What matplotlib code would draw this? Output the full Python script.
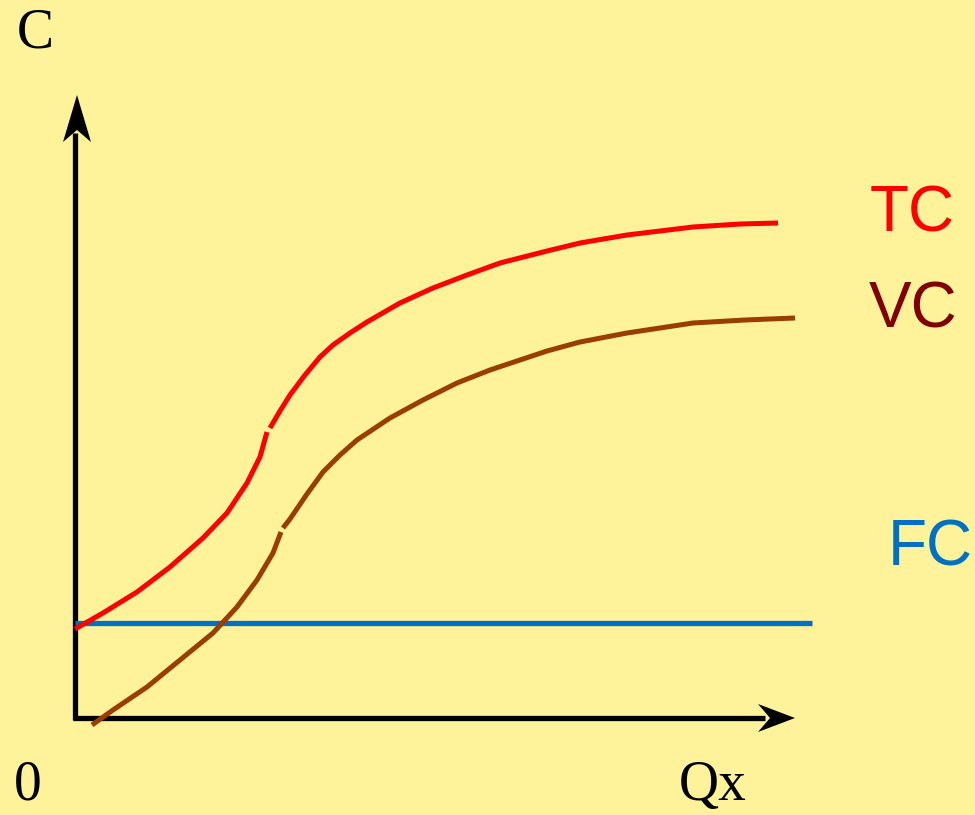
import matplotlib
matplotlib.use("Agg")
import matplotlib.pyplot as plt
from matplotlib.patches import Polygon

# quantity (x) and cost (y); origin at the axis corner
tc_low_q = [0, 28, 62, 95, 128, 152, 172, 185, 192]
tc_low_c = [89, 105, 126, 151, 180, 205, 235, 261, 286]
tc_up_q = [195, 205, 215, 230, 245, 258, 275, 292, 325, 358, 392, 425, 472,
           505, 552, 618, 665, 703]
tc_up_c = [290, 307, 323, 343, 361, 373, 385, 396, 415, 430, 443, 455, 467,
           475, 483, 491, 494, 495]

vc_low_q = [17, 38, 72, 105, 138, 162, 182, 198, 206]
vc_low_c = [-7, 8, 31, 58, 85, 111, 138, 165, 186]
vc_up_q = [208, 215, 232, 248, 265, 282, 315, 348, 382, 415, 445, 472, 505,
           552, 618, 670, 720]
vc_up_c = [190, 199, 224, 246, 263, 278, 300, 318, 335, 348, 358, 367, 376,
           385, 395, 398, 400]

fc_q = [0, 737]
fc_c = [95, 95]

bg = "#FEF29B"
fig = plt.figure(figsize=(9.75, 8.15), dpi=100, facecolor=bg)
ax = fig.add_axes([0, 0, 1, 1])
ax.set_facecolor(bg)
ax.set_xlim(-75, 900)
ax.set_ylim(-97, 718)
ax.axis("off")

# axes with stealth-like arrow heads
ax.plot([0, 0], [-2, 585], color="black", lw=3.8, solid_capstyle="butt")
ax.plot([-2, 690], [0, 0], color="black", lw=3.8, solid_capstyle="butt")
ax.add_patch(Polygon([(2, 623), (-12, 576), (2, 588), (16, 576)], closed=True,
                     color="black", lw=0))
ax.add_patch(Polygon([(720, 0), (683, 14), (695, 0), (683, -14)], closed=True,
                     color="black", lw=0))

# curves
ax.plot(fc_q, fc_c, color="#0070C0", lw=3.8, solid_capstyle="butt")
ax.plot(tc_low_q, tc_low_c, color="#FF0000", lw=3.6, solid_capstyle="butt")
ax.plot(tc_up_q, tc_up_c, color="#FF0000", lw=3.6, solid_capstyle="butt")
ax.plot(vc_low_q, vc_low_c, color="#993D00", lw=3.6, solid_capstyle="butt")
ax.plot(vc_up_q, vc_up_c, color="#993D00", lw=3.6, solid_capstyle="butt")

# labels
serif = ["Liberation Serif", "DejaVu Serif"]
sans = ["Liberation Sans", "DejaVu Sans"]
ax.text(-40, 684, "C", family=serif, fontsize=40, ha="center", va="center")
ax.text(-47, -68, "0", family=serif, fontsize=40, ha="center", va="center")
ax.text(638, -68, "Qx", family=serif, fontsize=40, ha="center", va="center")
ax.text(837, 503, "TC", family=sans, fontsize=46, color="#FF0000",
        ha="center", va="center")
ax.text(838, 407, "VC", family=sans, fontsize=46, color="#800000",
        ha="center", va="center")
ax.text(855, 170, "FC", family=sans, fontsize=46, color="#0070C0",
        ha="center", va="center")

fig.savefig("out.png", dpi=100, facecolor=bg)
